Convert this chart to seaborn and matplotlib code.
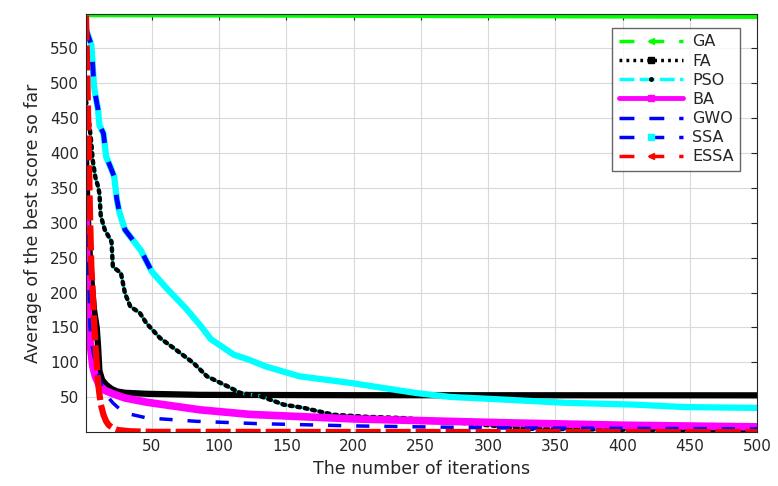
import numpy as np
import pandas as pd
import matplotlib
matplotlib.use("Agg")
import matplotlib.pyplot as plt
from matplotlib.lines import Line2D
import seaborn as sns

# ---------------- data ----------------
ga_x = [1, 100, 200, 300, 400, 500]
ga_y = [598, 597.5, 597, 596.5, 596, 595.5]

fa_x = [1, 2, 3, 5, 7, 9, 10, 11, 13, 16, 20, 24, 30, 46, 86, 200, 350, 500]
fa_y = [395, 330, 280, 220, 175, 150, 123, 88, 75, 68, 62, 58.5, 56.5, 55, 53.5, 53, 52.9, 52.8]

pso_x = [1, 3, 5, 6, 8, 10, 11, 12, 15, 20, 21, 27, 30, 34, 41, 46, 56, 68, 81, 91,
         106, 116, 130, 138, 148, 163, 185, 210, 235, 260, 300, 330, 400, 500]
pso_y = [475, 450, 414, 390, 365, 352, 342, 310, 290, 273, 237, 228, 199, 180, 171, 156, 135, 118, 99, 80,
         66, 56, 52, 46.6, 39.5, 34.8, 25, 22, 20.4, 17, 10, 5, 3.5, 3]

ba_x = [1, 2, 3, 4, 6, 8, 11, 15, 21, 30, 46, 86, 123, 200, 317, 400, 500]
ba_y = [311, 200, 160, 130, 95, 80, 67, 60, 55, 49, 43, 32, 25.5, 19, 13.3, 10, 7.6]

gwo_x = [1, 2, 3, 4, 6, 8, 10, 14, 21, 29, 46, 83, 128, 200, 307, 500]
gwo_y = [405, 320, 230, 150, 118, 100, 85, 58, 42, 28, 20.5, 15.6, 12.3, 9, 6.1, 4.8]

ssa_x = [1, 3, 5, 6, 7, 8, 10, 11, 14, 16, 20, 22, 24, 26, 30, 42, 50, 62, 75, 86, 94,
         111, 122, 135, 160, 198, 222, 247, 272, 309, 359, 409, 446, 500]
ssa_y = [578, 566, 555, 526, 495, 483, 462, 440, 428, 395, 376, 366, 333, 314, 290, 260, 230, 204, 178, 153, 133,
         111, 104, 94, 80, 70.5, 63.4, 56, 50.5, 47, 42, 39.5, 36, 34.8]

essa_x = [1, 2, 3, 4, 5, 6, 7, 8, 9, 10, 12, 14, 16, 18, 21, 25, 34, 50, 200, 500]
essa_y = [597, 510, 410, 310, 237, 200, 160, 125, 100, 70, 40, 25, 15.6, 10, 6, 3, 1.3, 0.5, 0.3, 0.2]

x_ticks = [50, 100, 150, 200, 250, 300, 350, 400, 450, 500]
y_ticks = [50, 100, 150, 200, 250, 300, 350, 400, 450, 500, 550]
labels = ["GA", "FA", "PSO", "BA", "GWO", "SSA", "ESSA"]

# ---------------- figure ----------------
sns.set_theme(style="white")
plt.rcParams["font.family"] = ["DejaVu Sans"]

fig = plt.figure(figsize=(7.78, 4.86), dpi=100)
ax = fig.add_axes([0.1105, 0.111, 0.8625, 0.860])

ax.grid(True, color="#d9d9d9", linewidth=0.8)
ax.set_axisbelow(True)

def line(x, y, **kw):
    sns.lineplot(x=x, y=y, ax=ax, estimator=None, sort=False, legend=False, **kw)

line(ga_x, ga_y, color="#00ff00", linewidth=3.5)
line(fa_x, fa_y, color="black", linewidth=4.5)
# SSA: cyan body with blue dash pieces early on
line(ssa_x, ssa_y, color="#00ffff", linewidth=4.5)
k = 17
line(ssa_x[:k], ssa_y[:k], color="#0000ff", linewidth=3.5, linestyle=(0, (3, 4)))
# PSO: cyan with dense black dots
line(pso_x, pso_y, color="#00ffff", linewidth=2.2)
line(pso_x, pso_y, color="black", linewidth=3.2, linestyle=(0, (0.6, 1.1)), dash_capstyle="round")
line(ba_x, ba_y, color="#ff00ff", linewidth=5.5)
line(gwo_x, gwo_y, color="#0000ff", linewidth=2.5, linestyle=(0, (3.8, 4.3)))
line(essa_x, essa_y, color="#ff0000", linewidth=4.5, linestyle=(0, (4, 0.8)))

ax.set_xlim(1, 500)
ax.set_ylim(0.2, 599)
ax.set_xticks(x_ticks)
ax.set_yticks(y_ticks)
ax.tick_params(direction="in", top=True, right=True, length=4, width=0.8,
               labelsize=11, colors="#262626", pad=5)
for s in ax.spines.values():
    s.set_color("#262626")
    s.set_linewidth(0.8)
    s.set_visible(True)

ax.set_xlabel("The number of iterations", fontsize=12.5, color="#262626", labelpad=4)
ax.set_ylabel("Average of the best score so far", fontsize=12.5, color="#262626", labelpad=6)

dash = (0, (4.3, 4.3))
handles = [
    Line2D([], [], color="#00ff00", linestyle=dash, linewidth=2.5, marker="<", markersize=4),
    Line2D([], [], color="black", linestyle=(0, (0.8, 1.2)), linewidth=2.5, marker="s", markersize=5),
    Line2D([], [], color="#00ffff", linestyle=(0, (4.3, 1.5)), linewidth=2.5, marker=".", markersize=5,
           markerfacecolor="black", markeredgecolor="black"),
    Line2D([], [], color="#ff00ff", linestyle="-", linewidth=3.5, marker="s", markersize=5),
    Line2D([], [], color="#0000ff", linestyle=dash, linewidth=2.5),
    Line2D([], [], color="#0000ff", linestyle=dash, linewidth=2.5, marker="s", markersize=4,
           markerfacecolor="#00ffff", markeredgecolor="#00ffff"),
    Line2D([], [], color="#ff0000", linestyle=dash, linewidth=2.5, marker="<", markersize=4),
]
leg = ax.legend(handles, labels, loc="upper right", bbox_to_anchor=(0.975, 0.9665),
                borderaxespad=0, fontsize=11.5, handlelength=4.0, handletextpad=0.6,
                labelspacing=0.26, borderpad=0.4, frameon=True, fancybox=False,
                numpoints=1)
leg.get_frame().set_edgecolor("#404040")
leg.get_frame().set_linewidth(1.0)

fig.savefig("out.png", dpi=100)
